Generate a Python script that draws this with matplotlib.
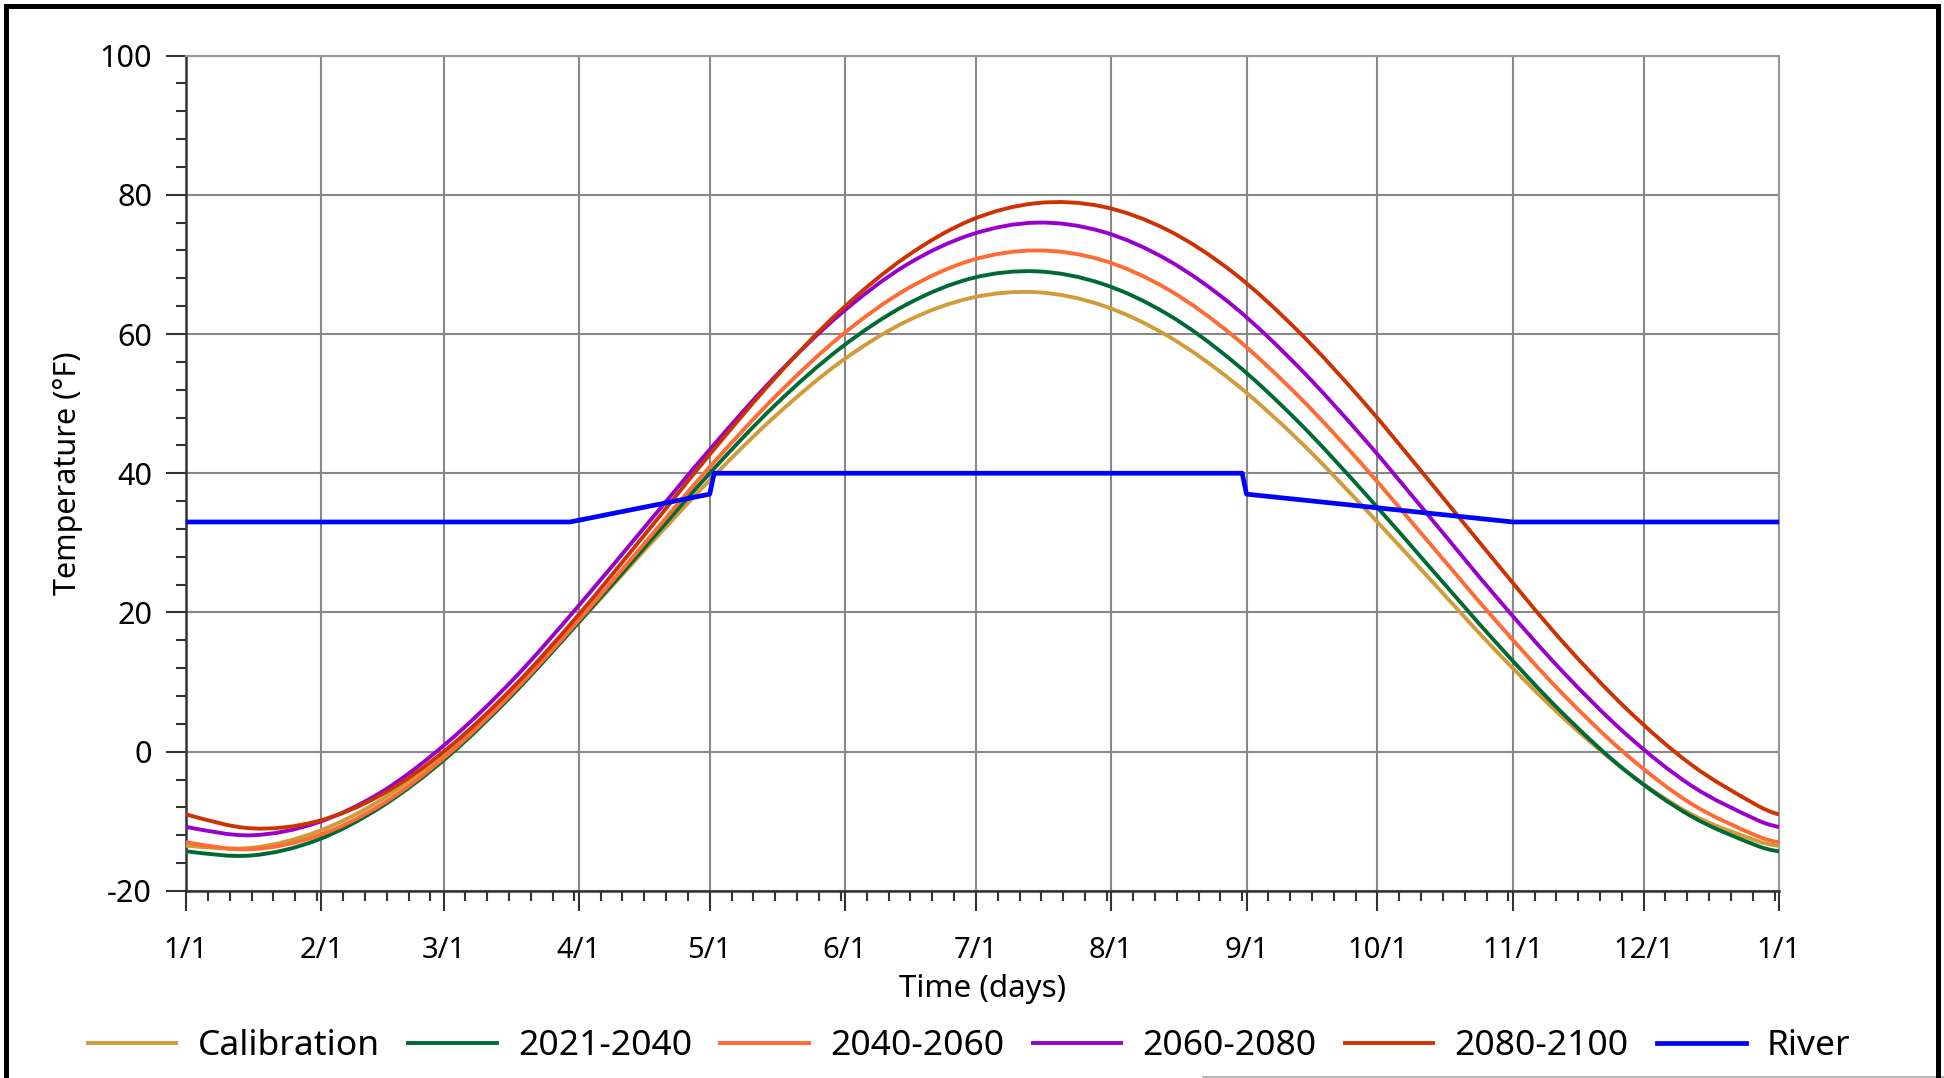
import matplotlib
matplotlib.use("Agg")
import matplotlib.pyplot as plt
from matplotlib.ticker import FixedLocator, MultipleLocator
from matplotlib.patches import Rectangle, PathPatch
from matplotlib.path import Path
from matplotlib.lines import Line2D

plt.rcParams['font.family'] = ['Noto Sans', 'DejaVu Sans']
plt.rcParams['axes.unicode_minus'] = False

# day of year, sampled every 15 days
days = [0, 15, 30, 45, 60, 75, 90, 105, 120, 135, 150, 165, 180,
        195, 210, 225, 240, 255, 270, 285, 300, 315, 330, 345, 360, 365]

calibration = [-13.5, -13.8, -11.5, -6.8, 0.2, 8.8, 18.6, 28.9, 39.0, 48.2, 56.0, 61.8, 65.2,
               66.0, 64.1, 59.7, 53.1, 44.7, 35.0, 24.8, 14.6, 5.2, -2.8, -9.0, -12.8, -13.5]
p2021 = [-14.3, -14.9, -12.7, -7.8, -0.7, 8.3, 18.6, 29.3, 40.0, 49.8, 58.0, 64.2, 68.0,
         69.0, 67.2, 62.8, 56.0, 47.3, 37.2, 26.5, 15.8, 5.8, -2.8, -9.3, -13.5, -14.3]
p2040 = [-13.0, -14.0, -12.1, -7.5, -0.4, 8.6, 18.9, 29.9, 40.9, 51.0, 59.7, 66.4, 70.6,
         72.0, 70.6, 66.4, 59.7, 51.0, 40.9, 29.9, 18.9, 8.6, -0.4, -7.5, -12.1, -13.0]
p2060 = [-10.8, -12.0, -10.2, -5.7, 1.4, 10.4, 21.0, 32.2, 43.4, 53.9, 62.9, 69.9, 74.3,
         76.0, 74.7, 70.6, 64.0, 55.2, 44.9, 33.7, 22.4, 11.8, 2.5, -4.9, -9.8, -10.8]
p2080 = [-9.0, -11.0, -10.0, -6.1, 0.5, 9.3, 19.7, 31.1, 42.7, 53.7, 63.4, 71.1, 76.4,
         78.8, 78.3, 74.9, 68.8, 60.3, 50.1, 38.8, 27.3, 16.1, 6.2, -1.9, -7.7, -9.0]

# river temperature breakpoints
river_days = [0, 88, 120, 121, 242, 243, 304, 365]
river_temp = [33, 33, 37, 40, 40, 37, 33, 33]

month_starts = [0, 31, 59, 90, 120, 151, 181, 212, 243, 273, 304, 334, 365]
month_labels = ['1/1', '2/1', '3/1', '4/1', '5/1', '6/1', '7/1',
                '8/1', '9/1', '10/1', '11/1', '12/1', '1/1']

series = [
    ('Calibration', calibration, '#D29B3A'),
    ('2021-2040', p2021, '#006A35'),
    ('2040-2060', p2040, '#FF6A35'),
    ('2060-2080', p2060, '#9A00CC'),
    ('2080-2100', p2080, '#CC3300'),
]


def smooth_path(x, y):
    """Cubic Bezier path through the points (Hermite tangents, year wraps)."""
    n = len(x)
    slopes = []
    for i in range(n):
        if i == 0 or i == n - 1:
            # the year wraps: day 365 joins day 0
            slopes.append((y[1] - y[-2]) / (x[1] + 365 - x[-2]))
        else:
            slopes.append((y[i + 1] - y[i - 1]) / (x[i + 1] - x[i - 1]))
    verts = [(x[0], y[0])]
    codes = [Path.MOVETO]
    for i in range(n - 1):
        h = (x[i + 1] - x[i]) / 3.0
        verts += [(x[i] + h, y[i] + slopes[i] * h),
                  (x[i + 1] - h, y[i + 1] - slopes[i + 1] * h),
                  (x[i + 1], y[i + 1])]
        codes += [Path.CURVE4] * 3
    return Path(verts, codes)


fig = plt.figure(figsize=(19.44, 10.78), dpi=100)
ax = fig.add_axes([0.0957, 0.1735, 0.8194, 0.775])

handles = []
for name, vals, col in series:
    ax.add_patch(PathPatch(smooth_path(days, vals), fill=False, ec=col, lw=2.8,
                           transform=ax.transData, zorder=3))
    handles.append(Line2D([], [], color=col, lw=2.8, label=name))
ln, = ax.plot(river_days, river_temp, color='#0000FF', lw=3.4, label='River', zorder=4)
handles.append(ln)

ax.set_xlim(0, 365)
ax.set_ylim(-20, 100)

# minor ticks every 5 days inside each month
minor = []
for a, b in zip(month_starts[:-1], month_starts[1:]):
    minor += list(range(a + 5, b, 5))
ax.xaxis.set_major_locator(FixedLocator(month_starts))
ax.xaxis.set_minor_locator(FixedLocator(minor))
ax.set_xticklabels(month_labels)
ax.yaxis.set_major_locator(MultipleLocator(20))
ax.yaxis.set_minor_locator(MultipleLocator(4))

ax.grid(True, which='major', color='#888888', lw=1.5)
ax.set_axisbelow(True)
for s in ['top', 'right']:
    ax.spines[s].set_color('#999999')
    ax.spines[s].set_linewidth(1.5)
for s in ['left', 'bottom']:
    ax.spines[s].set_color('#333333')
    ax.spines[s].set_linewidth(1.8)

ax.tick_params(which='major', direction='out', length=14.5, width=1.5,
               color='#333333', labelsize=22, pad=10)
ax.tick_params(which='minor', direction='out', length=7.2, width=1.5, color='#333333')
ax.tick_params(axis='x', which='major', labelsize=21, pad=18)

ax.set_xlabel('Time (days)', fontsize=22.5)
ax.set_ylabel('Temperature (°F)', fontsize=22)
ax.xaxis.set_label_coords(0.5, -0.117)
ax.xaxis.label.set_va('center')
ax.yaxis.set_label_coords(-0.074, 0.5)
ax.yaxis.label.set_va('center')

fig.legend(handles=handles, loc='center', bbox_to_anchor=(0.4985, 0.0295), ncol=6,
           frameon=False, fontsize=25.5, handlelength=2.5, handletextpad=0.6,
           columnspacing=0.8)

# outer frame and bottom edge line
fig.patches.append(Rectangle((6 / 1944, -0.05), 1932 / 1944, 1.05 - 5.5 / 1078,
                             transform=fig.transFigure, fill=False,
                             ec='black', lw=3.6, zorder=10))
fig.lines.append(Line2D([1203 / 1944, 1.0], [1.5 / 1078, 1.5 / 1078],
                        transform=fig.transFigure, color='#aaaaaa', lw=1.2))

fig.savefig('out.png', dpi=100, facecolor='white')
